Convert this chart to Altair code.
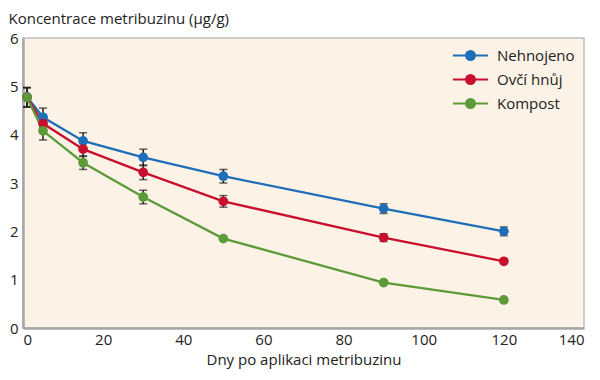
import altair as alt
import pandas as pd

days = [1, 5, 15, 30, 50, 90, 120]
series_names = ["Nehnojeno", "Ovčí hnůj", "Kompost"]
nehnojeno = [4.78, 4.36, 3.87, 3.53, 3.14, 2.47, 2.00]
ovci_hnuj = [4.77, 4.23, 3.70, 3.22, 2.62, 1.87, 1.38]
kompost = [4.77, 4.08, 3.42, 2.71, 1.85, 0.94, 0.58]
err_nehnojeno = [0.20, 0.19, 0.17, 0.17, 0.14, 0.10, 0.09]
err_ovci_hnuj = [0.20, 0.15, 0.15, 0.15, 0.12, 0.08, 0.0]
err_kompost = [0.20, 0.19, 0.14, 0.14, 0.0, 0.0, 0.0]
colors = ["#1f6fb8", "#c8102e", "#5c9a3a"]

rows = []
for name, vals, errs in zip(series_names, [nehnojeno, ovci_hnuj, kompost],
                            [err_nehnojeno, err_ovci_hnuj, err_kompost]):
    for d, v, e in zip(days, vals, errs):
        rows.append({"den": d, "hodnota": v, "serie": name,
                     "lo": v - e, "hi": v + e, "err": e})
df = pd.DataFrame(rows)

FONT = "Open Sans"

xscale = alt.Scale(domain=[0, 140], nice=False, zero=True)
yscale = alt.Scale(domain=[0, 6], nice=False)

color = alt.Color(
    "serie:N",
    scale=alt.Scale(domain=series_names, range=colors),
    sort=series_names,
    legend=alt.Legend(
        title=None, orient="none", legendX=440, legendY=10,
        symbolType="M-4.4,0H4.4M1.1,0A1.1,1.1,0,1,1,-1.1,0A1.1,1.1,0,1,1,1.1,0",
        symbolSize=64, symbolStrokeWidth=2.2, labelOffset=19,
        labelFontSize=15, labelFont=FONT, labelColor="#222", rowPadding=5,
        padding=0,
    ),
)

base = alt.Chart(df)

err = base.transform_filter("datum.err > 0")
rules = err.mark_rule(color="#222", strokeWidth=1.5).encode(
    x=alt.X("den:Q", scale=xscale),
    y=alt.Y("lo:Q", scale=yscale),
    y2="hi:Q",
)
caps_lo = err.mark_tick(color="#222", thickness=1.5, size=8, orient="horizontal").encode(
    x=alt.X("den:Q", scale=xscale), y=alt.Y("lo:Q", scale=yscale))
caps_hi = err.mark_tick(color="#222", thickness=1.5, size=8, orient="horizontal").encode(
    x=alt.X("den:Q", scale=xscale), y=alt.Y("hi:Q", scale=yscale))

lines = base.mark_line(strokeWidth=2.3).encode(
    x=alt.X("den:Q", scale=xscale,
            axis=alt.Axis(title="Dny po aplikaci metribuzinu", values=[0, 20, 40, 60, 80, 100, 120, 140],
                          ticks=False, grid=False, labelPadding=4, titleY=36,
                          titleBaseline="alphabetic")),
    y=alt.Y("hodnota:Q", scale=yscale,
            axis=alt.Axis(title="Koncentrace metribuzinu (µg/g)", values=[0, 1, 2, 3, 4, 5, 6],
                          ticks=False, grid=False, labelPadding=5, titleAngle=0,
                          titleX=-15, titleY=-15, titleAlign="left",
                          titleBaseline="alphabetic")),
    color=color,
    order="den:Q",
)
points = base.mark_circle(size=95, opacity=1).encode(
    x=alt.X("den:Q", scale=xscale),
    y=alt.Y("hodnota:Q", scale=yscale),
    color=alt.Color("serie:N", scale=alt.Scale(domain=series_names, range=colors), legend=None),
)

chart = alt.layer(rules, caps_lo, caps_hi, lines, points).properties(
    width=561, height=290,
    autosize=alt.AutoSizeParams(type="none"),
    padding={"left": 15, "top": 30, "right": 8, "bottom": 46},
    background="white",
).configure_view(
    fill="#fcf2e6", stroke="#bdbdbd", strokeWidth=1.5,
).configure_axis(
    domainColor="#a6a6a6", domainWidth=2.5,
    labelFont=FONT, labelFontSize=15, labelColor="#222",
    titleFont=FONT, titleFontSize=15, titleColor="#222", titleFontWeight="normal",
)

chart.save("out.html", embed_options={"renderer": "svg", "actions": False})
